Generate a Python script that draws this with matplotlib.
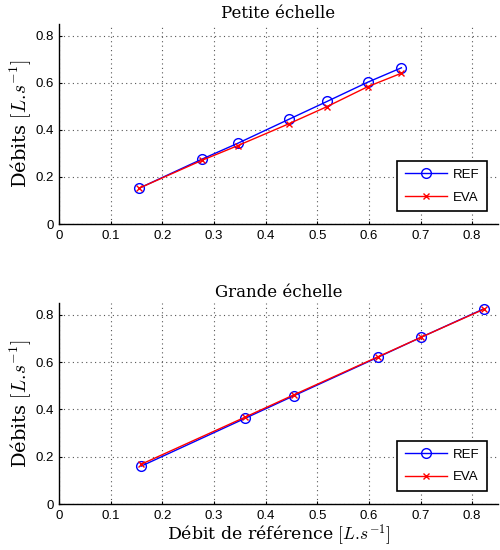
import matplotlib
matplotlib.use("Agg")
import matplotlib.pyplot as plt

# Petite échelle
x_small = [0.155, 0.276, 0.346, 0.445, 0.519, 0.598, 0.663]
ref_small = [0.152, 0.275, 0.343, 0.445, 0.521, 0.603, 0.664]
eva_small = [0.152, 0.270, 0.333, 0.426, 0.499, 0.584, 0.641]

# Grande échelle
x_large = [0.159, 0.360, 0.455, 0.617, 0.701, 0.822]
ref_large = [0.160, 0.362, 0.458, 0.620, 0.705, 0.825]
eva_large = [0.168, 0.367, 0.462, 0.622, 0.705, 0.823]

xticks = [0, 0.1, 0.2, 0.3, 0.4, 0.5, 0.6, 0.7, 0.8]
xticklabels = ["0", "0.1", "0.2", "0.3", "0.4", "0.5", "0.6", "0.7", "0.8"]
yticks = [0, 0.2, 0.4, 0.6, 0.8]
yticklabels = ["0", "0.2", "0.4", "0.6", "0.8"]

plt.rcParams['mathtext.fontset'] = 'cm'
serif = ['DejaVu Serif']
sans = ['Liberation Sans', 'DejaVu Sans']

fig = plt.figure(figsize=(5.0, 5.5), dpi=100)
ax1 = fig.add_axes([0.118, 0.5927, 0.878, 0.3636])
ax2 = fig.add_axes([0.118, 0.0836, 0.878, 0.3655])

def style(ax, x, ref, eva, title, xlabel=None):
    ax.plot(x, ref, color='#0000ff', marker='o', markersize=7, markerfacecolor='none',
            markeredgewidth=1.0, linewidth=1.0, label='REF')
    ax.plot(x, eva, color='#ff0000', marker='x', markersize=5, markeredgewidth=1.0,
            linewidth=1.0, label='EVA')
    ax.set_xlim(0, 0.85)
    ax.set_ylim(0, 0.85)
    ax.set_xticks(xticks)
    ax.set_xticklabels(xticklabels, fontfamily=sans, fontsize=9.5)
    ax.set_yticks(yticks)
    ax.set_yticklabels(yticklabels, fontfamily=sans, fontsize=9.5)
    ax.tick_params(direction='in', length=2, width=0.8, pad=4)
    ax.grid(True, linestyle=(0, (1, 3)), color='#555555', linewidth=0.8)
    for s in ['top', 'right']:
        ax.spines[s].set_visible(False)
    for s in ['left', 'bottom']:
        ax.spines[s].set_linewidth(1.0)
    ax.set_title(title, fontfamily=serif, fontsize=12, pad=4)
    ax.set_ylabel(r'Débits $[L.\!s^{-1}]$', fontfamily=serif, fontsize=14, labelpad=1)
    if xlabel:
        ax.set_xlabel(xlabel, fontfamily=serif, fontsize=12.5, labelpad=0)
    leg = ax.legend(loc='lower right', bbox_to_anchor=(0.99, 0.03), prop={'family': sans, 'size': 9.5},
                    fancybox=False, edgecolor='black', framealpha=1, handlelength=3.2,
                    borderpad=0.6, labelspacing=0.8, handletextpad=0.4)
    leg.get_frame().set_linewidth(1.2)

style(ax1, x_small, ref_small, eva_small, 'Petite échelle')
style(ax2, x_large, ref_large, eva_large, 'Grande échelle', r'Débit de référence $[L.\!s^{-1}]$')

fig.savefig('out.png', dpi=100)
